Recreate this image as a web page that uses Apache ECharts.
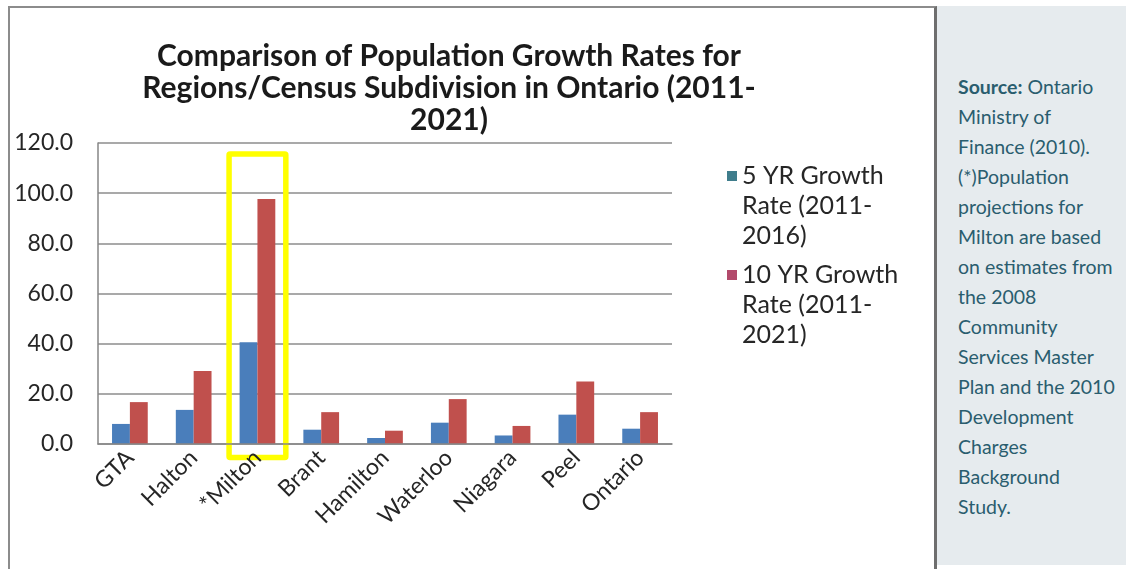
<!DOCTYPE html>
<html>
<head>
<meta charset="utf-8">
<script src="https://cdn.jsdelivr.net/npm/echarts@6/dist/echarts.min.js"></script>
<style>
  html, body { margin: 0; padding: 0; background: #ffffff; }
  #wrap { position: relative; width: 1126px; height: 569px; overflow: hidden; background: #fff; }
  #frame { position: absolute; left: 8px; top: 6px; width: 924px; height: 600px;
           border-left: 2px solid #8c8c8c; border-top: 2px solid #8c8c8c; border-right: 3px solid #6e6e6e; }
  #chart { position: absolute; left: 0; top: 0; width: 1126px; height: 569px; }
  #panel { position: absolute; left: 937px; top: 6px; width: 189px; height: 559px; background: #e6ebee;
           box-sizing: border-box; padding: 66px 0 0 21px; font-family: Lato, "Open Sans", sans-serif;
           font-size: 19.5px; line-height: 30px; color: #2a5d6e; white-space: nowrap; }
  #panel b { font-weight: bold; }
</style>
</head>
<body>
<div id="wrap">
  <div id="frame"></div>
  <div id="chart"></div>
  <div id="panel"><b>Source:</b> Ontario<br>Ministry of<br>Finance (2010).<br>(*)Population<br>projections for<br>Milton are based<br>on estimates from<br>the 2008<br>Community<br>Services Master<br>Plan and the 2010<br>Development<br>Charges<br>Background<br>Study.</div>
</div>
<script>
const categories = ['GTA', 'Halton', '*Milton', 'Brant', 'Hamilton', 'Waterloo', 'Niagara', 'Peel', 'Ontario'];
const fiveYearRate = [8.0, 13.6, 40.6, 5.7, 2.4, 8.5, 3.4, 11.7, 6.1];
const tenYearRate = [16.7, 29.1, 97.7, 12.7, 5.3, 17.9, 7.2, 24.9, 12.7];
const seriesNames = ['5 YR Growth Rate (2011-2016)', '10 YR Growth Rate (2011-2021)'];
const legendLabels = ['5 YR Growth\nRate (2011-\n2016)', '10 YR Growth\nRate (2011-\n2021)'];
const highlightCategory = '*Milton';

const chart = echarts.init(document.getElementById('chart'), null, { renderer: 'canvas' });
const font = 'Lato, "Open Sans", sans-serif';
// legend icon: a square aligned with the first text line (tiny points stretch the icon box to the 3-line height)
const legendIcon = 'path://M0,0L0.01,0L0,0.01Z M0,10L10,10L10,20L0,20Z M0,90L0.01,90L0,90.01Z';
const option = {
  backgroundColor: 'transparent',
  animation: false,
  title: {
    text: 'Comparison of Population Growth Rates for\nRegions/Census Subdivision in Ontario (2011-\n2021)',
    left: 449, top: 40, textAlign: 'center', padding: 0,
    textStyle: { fontFamily: font, fontSize: 30, fontWeight: 'bold', color: '#1a1a1a', lineHeight: 32 }
  },
  legend: {
    orient: 'vertical', left: 727, top: 161, itemGap: 9, padding: 0,
    itemWidth: 10, itemHeight: 90, icon: legendIcon, itemSymbolKeepAspect: false,
    formatter: function (name) { return legendLabels[seriesNames.indexOf(name)]; },
    textStyle: { fontFamily: font, fontSize: 25, color: '#262626', lineHeight: 30 },
    data: [
      { name: seriesNames[0], itemStyle: { color: '#3f7d8c' } },
      { name: seriesNames[1], itemStyle: { color: '#b24a6b' } }
    ]
  },
  grid: { left: 98, right: 454, top: 143, bottom: 125, containLabel: false },
  xAxis: {
    type: 'category', data: categories, z: 10,
    axisLine: { lineStyle: { color: '#868686', width: 1.5 } },
    axisTick: { show: false },
    axisLabel: { rotate: 45, margin: 10, fontFamily: font, fontSize: 23, color: '#262626', interval: 0 }
  },
  yAxis: {
    type: 'value', min: 0, max: 120, interval: 20,
    axisLine: { show: true, lineStyle: { color: '#868686', width: 1.5 } },
    axisTick: { show: false },
    splitLine: { lineStyle: { color: '#8c8c8c', width: 1.5 } },
    axisLabel: { margin: 25, fontFamily: font, fontSize: 23, color: '#262626',
                 formatter: function (v) { return v.toFixed(1); } }
  },
  series: [
    { name: seriesNames[0], type: 'bar', data: fiveYearRate, barGap: '0%', barCategoryGap: '44%',
      itemStyle: { color: '#4a7ebb' } },
    { name: seriesNames[1], type: 'bar', data: tenYearRate, barGap: '0%', barCategoryGap: '44%',
      itemStyle: { color: '#c0504d' } }
  ]
};
chart.setOption(option);

// Yellow highlight box around the *Milton category, placed through the axes
const cx = chart.convertToPixel({ xAxisIndex: 0 }, highlightCategory);
const c0 = chart.convertToPixel({ xAxisIndex: 0 }, categories[0]);
const c1 = chart.convertToPixel({ xAxisIndex: 0 }, categories[1]);
const band = c1 - c0;
const yTop = chart.convertToPixel({ yAxisIndex: 0 }, 115.6);
const yBot = chart.convertToPixel({ yAxisIndex: 0 }, -5.4);
const halfW = band * 0.445;
chart.setOption({
  graphic: [{
    type: 'rect', z: 3,
    shape: { x: cx - halfW, y: yTop, width: halfW * 2, height: yBot - yTop, r: 1 },
    style: { fill: 'none', stroke: '#ffff00', lineWidth: 5.5 }
  }]
});
</script>
</body>
</html>
